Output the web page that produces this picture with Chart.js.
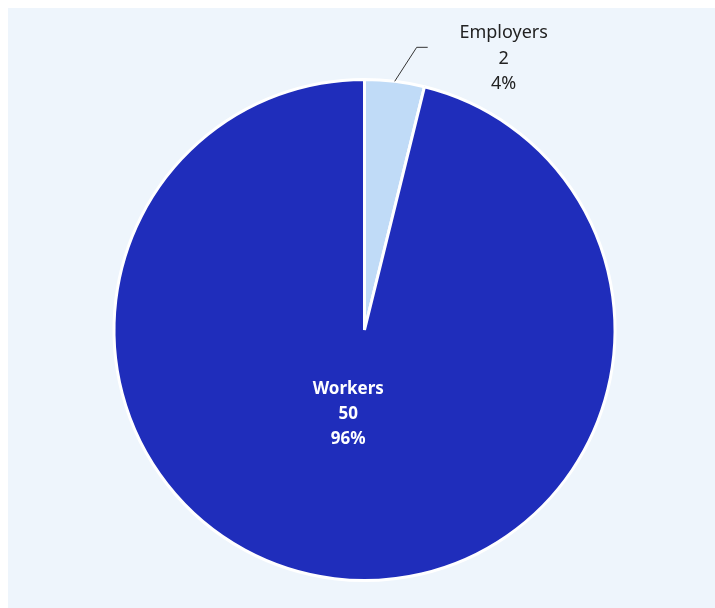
<!DOCTYPE html>
<html>
<head>
<meta charset="utf-8">
<script src="https://cdn.jsdelivr.net/npm/chart.js@4"></script>
<style>
  body { margin: 8px 0 0 8px; background: #fff; overflow: hidden; }
  #wrap { width: 707px; height: 600px; background: #eef5fc; }
</style>
</head>
<body>
<div id="wrap"><canvas id="pie"></canvas></div>
<script>
const categories = ["Employers", "Workers"];
const counts = [2, 50];
const colors = ["#c0dbf7", "#1f2dbb"];

const total = counts.reduce((a, b) => a + b, 0);
const pct = (v) => Math.round((v / total) * 100) + "%";

// labels: small slices get a leader line outside, big ones sit inside
const sliceLabels = {
  id: "sliceLabels",
  afterDatasetsDraw(chart) {
    const ctx = chart.ctx;
    const arcs = chart.getDatasetMeta(0).data;
    arcs.forEach((arc, i) => {
      const { x, y, startAngle, endAngle, outerRadius } = arc.getProps(
        ["x", "y", "startAngle", "endAngle", "outerRadius"], true);
      const mid = (startAngle + endAngle) / 2;
      const lines = [categories[i], String(counts[i]), pct(counts[i])];
      ctx.save();
      ctx.textAlign = "center";
      ctx.textBaseline = "middle";
      if (counts[i] / total < 0.1) {
        const sx = x + Math.cos(mid) * outerRadius;
        const sy = y + Math.sin(mid) * outerRadius;
        const ex = sx + 22, ey = sy - 34;
        ctx.strokeStyle = "#333";
        ctx.lineWidth = 1;
        ctx.beginPath();
        ctx.moveTo(sx, sy);
        ctx.lineTo(ex, ey);
        ctx.lineTo(ex + 11, ey);
        ctx.stroke();
        ctx.fillStyle = "#222";
        ctx.font = "18px 'Noto Sans'";
        lines.forEach((t, k) => ctx.fillText(t, ex + 87, ey - 14 + k * 25.5));
      } else {
        const r = outerRadius * 0.34;
        const lx = x + Math.cos(mid) * r - 6;
        const ly = y + Math.sin(mid) * r;
        ctx.fillStyle = "#ffffff";
        ctx.font = "bold 17px 'Noto Sans'";
        lines.forEach((t, k) => ctx.fillText(t, lx, ly + (k - 1) * 25));
      }
      ctx.restore();
    });
  }
};

new Chart(document.getElementById("pie"), {
  type: "pie",
  data: {
    labels: categories,
    datasets: [{
      data: counts,
      backgroundColor: colors,
      borderColor: "#ffffff",
      borderWidth: 3
    }]
  },
  options: {
    responsive: true,
    maintainAspectRatio: false,
    animation: false,
    layout: { padding: { top: 70, bottom: 26, left: 104, right: 98 } },
    plugins: {
      legend: { display: false },
      tooltip: { enabled: false }
    }
  },
  plugins: [sliceLabels]
});
</script>
</body>
</html>
